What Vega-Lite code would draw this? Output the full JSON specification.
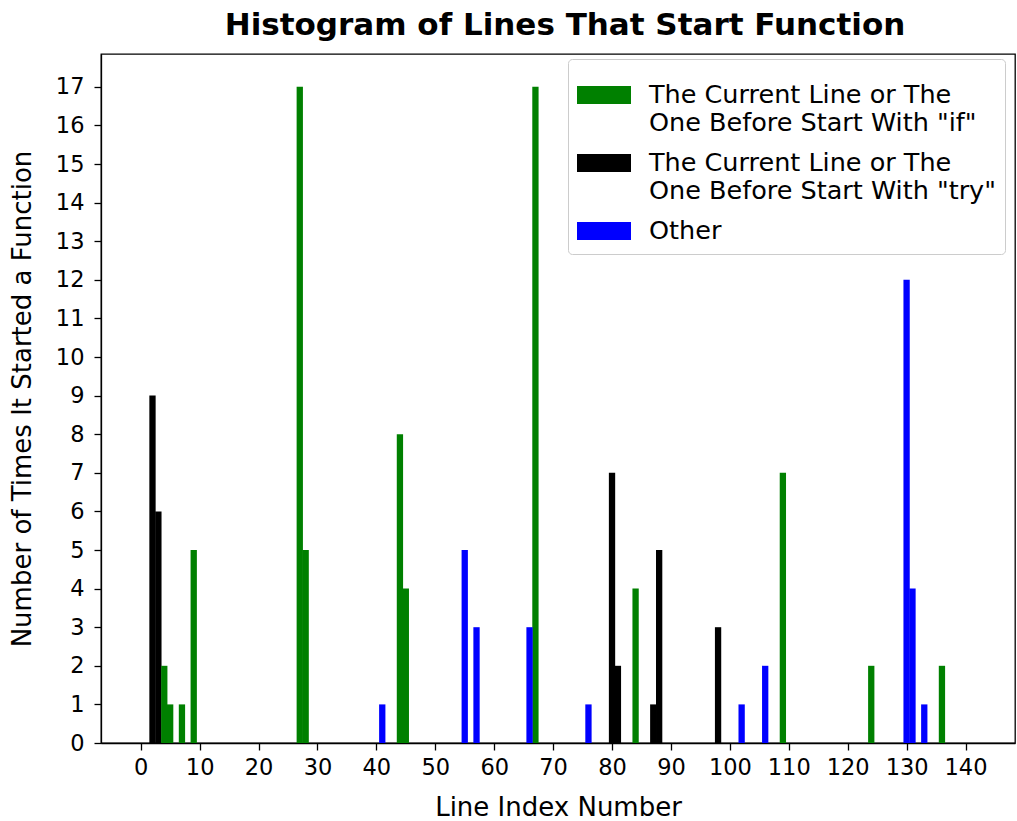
{
  "$schema": "https://vega.github.io/schema/vega-lite/v6.json",
  "width": 914,
  "height": 689,
  "autosize": {"type": "none"},
  "padding": {"left": 101, "top": 54, "right": 2, "bottom": 78},
  "background": "white",
  "title": {"text": "Histogram of Lines That Start Function", "fontSize": 31, "fontWeight": "bold", "font": "DejaVu Sans", "color": "black", "anchor": "middle", "offset": 12, "dx": 7},
  "config": {
    "view": {"stroke": "black", "strokeWidth": 1.3},
    "font": "DejaVu Sans",
    "axis": {"labelFont": "DejaVu Sans", "titleFont": "DejaVu Sans", "labelFontSize": 22.5, "titleFontSize": 26, "titleFontWeight": "normal", "labelColor": "black", "titleColor": "black", "tickColor": "black", "domainColor": "black", "tickSize": 7, "tickWidth": 1.3, "domainWidth": 1.3, "grid": false}
  },
  "datasets": {
    "bars": [
      {"pos": 2, "count": 9, "kind": "The Current Line or The|One Before Start With \"try\""},
      {"pos": 3, "count": 6, "kind": "The Current Line or The|One Before Start With \"try\""},
      {"pos": 80, "count": 7, "kind": "The Current Line or The|One Before Start With \"try\""},
      {"pos": 81, "count": 2, "kind": "The Current Line or The|One Before Start With \"try\""},
      {"pos": 87, "count": 1, "kind": "The Current Line or The|One Before Start With \"try\""},
      {"pos": 88, "count": 5, "kind": "The Current Line or The|One Before Start With \"try\""},
      {"pos": 98, "count": 3, "kind": "The Current Line or The|One Before Start With \"try\""},
      {"pos": 4, "count": 2, "kind": "The Current Line or The|One Before Start With \"if\""},
      {"pos": 5, "count": 1, "kind": "The Current Line or The|One Before Start With \"if\""},
      {"pos": 7, "count": 1, "kind": "The Current Line or The|One Before Start With \"if\""},
      {"pos": 9, "count": 5, "kind": "The Current Line or The|One Before Start With \"if\""},
      {"pos": 27, "count": 17, "kind": "The Current Line or The|One Before Start With \"if\""},
      {"pos": 28, "count": 5, "kind": "The Current Line or The|One Before Start With \"if\""},
      {"pos": 44, "count": 8, "kind": "The Current Line or The|One Before Start With \"if\""},
      {"pos": 45, "count": 4, "kind": "The Current Line or The|One Before Start With \"if\""},
      {"pos": 67, "count": 17, "kind": "The Current Line or The|One Before Start With \"if\""},
      {"pos": 84, "count": 4, "kind": "The Current Line or The|One Before Start With \"if\""},
      {"pos": 109, "count": 7, "kind": "The Current Line or The|One Before Start With \"if\""},
      {"pos": 124, "count": 2, "kind": "The Current Line or The|One Before Start With \"if\""},
      {"pos": 136, "count": 2, "kind": "The Current Line or The|One Before Start With \"if\""},
      {"pos": 41, "count": 1, "kind": "Other"},
      {"pos": 55, "count": 5, "kind": "Other"},
      {"pos": 57, "count": 3, "kind": "Other"},
      {"pos": 66, "count": 3, "kind": "Other"},
      {"pos": 76, "count": 1, "kind": "Other"},
      {"pos": 102, "count": 1, "kind": "Other"},
      {"pos": 106, "count": 2, "kind": "Other"},
      {"pos": 130, "count": 12, "kind": "Other"},
      {"pos": 131, "count": 4, "kind": "Other"},
      {"pos": 133, "count": 1, "kind": "Other"}
    ]
  },
  "data": {"name": "bars"},
  "mark": {"type": "bar", "width": 6.3, "stroke": null},
  "encoding": {
    "x": {"field": "pos", "type": "quantitative", "scale": {"domain": [-6.74, 148.4], "nice": false, "zero": false, "padding": 0},
      "axis": {"values": [0,10,20,30,40,50,60,70,80,90,100,110,120,130,140], "title": "Line Index Number", "labelPadding": 6, "titlePadding": 16, "labelFlush": false}},
    "y": {"field": "count", "type": "quantitative", "scale": {"domain": [0, 17.85], "nice": false, "padding": 0},
      "axis": {"values": [0,1,2,3,4,5,6,7,8,9,10,11,12,13,14,15,16,17], "title": "Number of Times It Started a Function", "labelPadding": 10, "titlePadding": 20}},
    "color": {"field": "kind", "type": "nominal",
      "scale": {"domain": ["The Current Line or The|One Before Start With \"if\"", "The Current Line or The|One Before Start With \"try\"", "Other"], "range": ["#008000", "#000000", "#0000ff"]},
      "legend": {
        "title": null, "orient": "none", "legendX": 467, "legendY": 5,
        "labelExpr": "split(datum.label, '|')",
        "labelFont": "DejaVu Sans", "labelFontSize": 25.5, "labelColor": "black", "labelLimit": 600, "labelOffset": 18,
        "symbolType": "M-1,-0.33H1V0.33H-1Z", "symbolSize": 2916, "symbolStrokeWidth": 0,
        "padding": 9, "rowPadding": 0, "fillColor": "white", "strokeColor": "#cccccc", "cornerRadius": 4,
        "labelBaseline": "middle",
        "encoding": {"labels": {"update": {"lineHeight": {"value": 30}}}}
      }}
  }
}
